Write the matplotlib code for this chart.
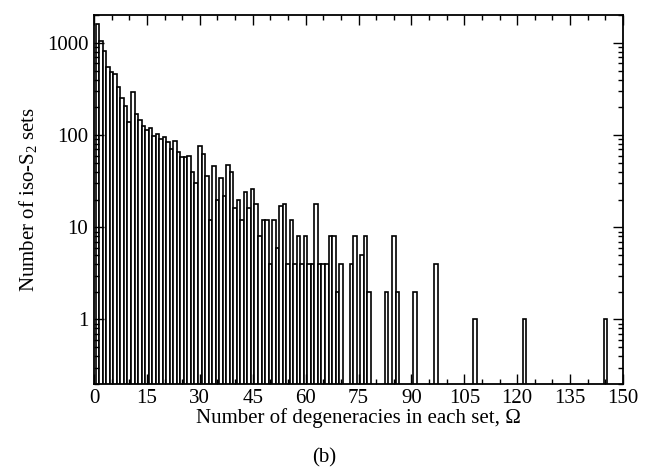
#_______________________________ LIBRERIAS ____________________________________
import numpy as np
import matplotlib
matplotlib.use('Agg')
import matplotlib.pyplot as plt

#_______________________________ DATOS ________________________________________
# numero de degeneraciones (Omega) y cantidad de conjuntos iso-S2 para cada una
omega = list(range(1, 98)) + [108, 122, 145]
n_sets = [1600, 1060, 812, 546, 480, 460, 334, 254, 206, 140,   # 1-10
          294, 170, 146, 126, 114, 118, 98, 104, 90, 96,         # 11-20
          84, 70, 86, 66, 58, 58, 60, 40, 30, 76,                # 21-30
          62, 36, 12, 46, 20, 34, 22, 48, 40, 16,                # 31-40
          20, 12, 24, 16, 26, 18, 8, 12, 12, 4,                  # 41-50
          12, 6, 17, 18, 4, 12, 4, 8, 4, 8,                      # 51-60
          4, 4, 18, 4, 4, 4, 8, 8, 2, 4,                         # 61-70
          0, 0, 4, 8, 0, 5, 8, 2, 0, 0,                          # 71-80
          0, 0, 2, 0, 8, 2, 0, 0, 0, 0,                          # 81-90
          2, 0, 0, 0, 0, 0, 4,                                   # 91-97
          1, 1, 1]                                               # 108, 122, 145

x_ticks = np.arange(0, 151, 15)
y_ticks = [1, 10, 100, 1000]
y_tick_labels = ['1', '10', '100', '1000']

#_______________________________ ESTILO _______________________________________
plt.rcParams['font.family'] = ['Liberation Serif', 'DejaVu Serif']
plt.rcParams['mathtext.fontset'] = 'custom'
plt.rcParams['mathtext.rm'] = 'Liberation Serif'
plt.rcParams['mathtext.it'] = 'Liberation Serif:italic'

#_______________________________ GRAFICO ______________________________________
x = np.array(omega)
y = np.array(n_sets, dtype=float)
mask = y > 0  # las barras vacias no se dibujan en escala log

fig = plt.figure(figsize=(6.49, 4.74), dpi=100)
ax = fig.add_axes([0.1448, 0.19, 0.8152, 0.778])

ax.bar(x[mask], y[mask], width=1.0, color='white', edgecolor='black',
       linewidth=1.2, align='center')

ax.set_yscale('log')
ax.set_xlim(0, 150)
ax.set_ylim(0.2, 2000)

ax.set_xticks(x_ticks)
ax.set_xticks(np.arange(0, 151, 5), minor=True)
ax.set_yticks(y_ticks)
ax.set_yticklabels(y_tick_labels)

ax.tick_params(which='both', direction='in', top=True, right=True,
               labelsize=15, width=1.0, pad=4)
ax.tick_params(which='major', length=7)
ax.tick_params(which='minor', length=3.5)

for s in ax.spines.values():
    s.set_linewidth(1.3)

ax.set_xlabel('Number of degeneracies in each set, \u03a9', fontsize=15, labelpad=0)
ax.set_ylabel('Number of iso-S$_2$ sets', fontsize=15, labelpad=6)

fig.text(0.5, 0.035, '(b)', ha='center', va='center', fontsize=15)

plt.savefig('out.png', dpi=100)
